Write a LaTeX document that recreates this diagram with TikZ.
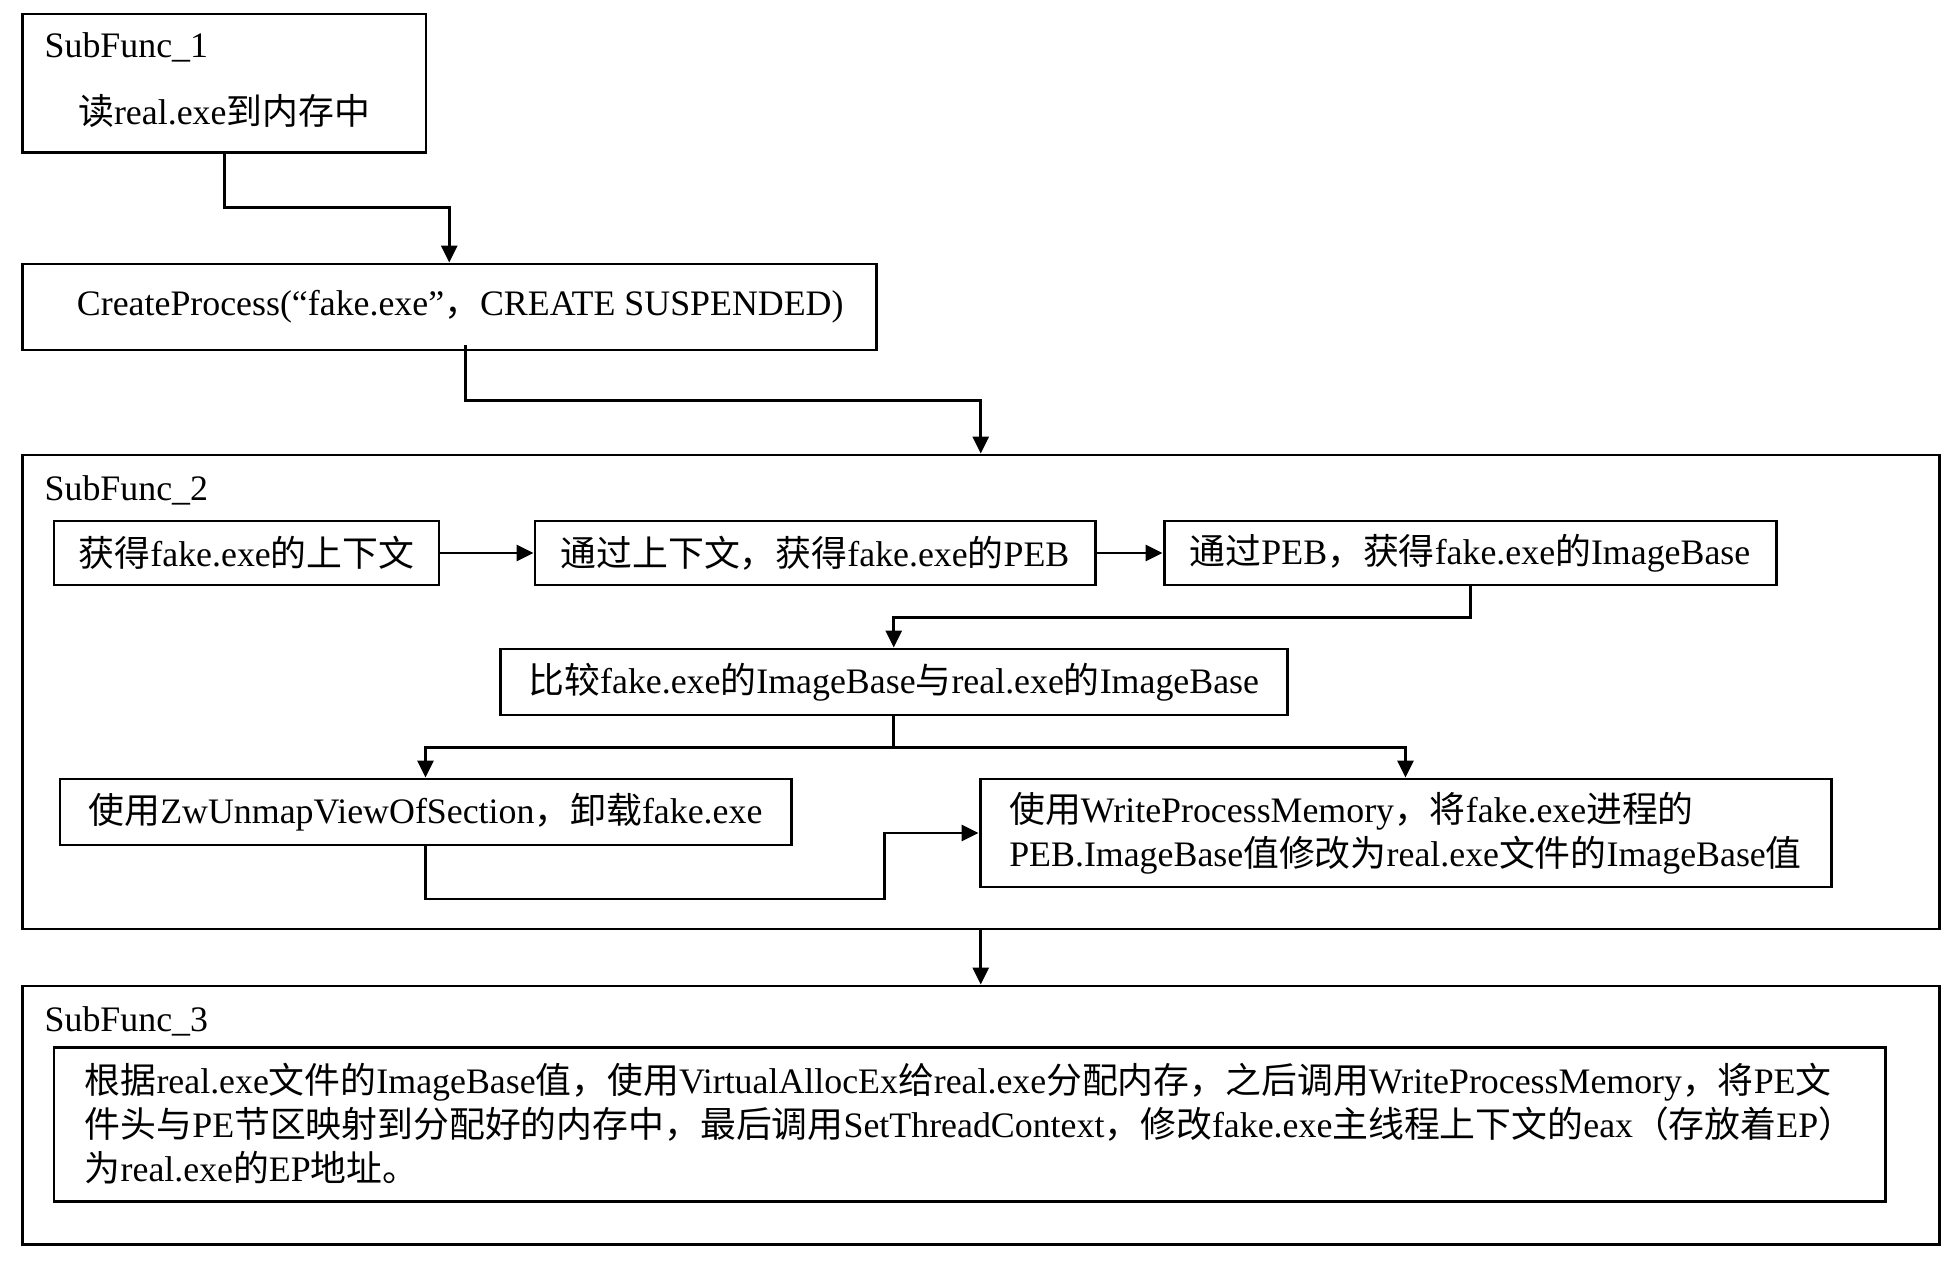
\documentclass[tikz,border=0pt]{standalone}
\usepackage{fontspec}
\setmainfont{Liberation Serif}
\newfontfamily\cjk{Noto Sans CJK SC}
\newcommand{\zh}[1]{{\cjk #1}}
\usepackage{tikz}
\usetikzlibrary{positioning, arrows.meta, calc}

\begin{document}
\begin{tikzpicture}[
  font=\fontsize{10.2}{12.5}\selectfont,
  box/.style={rectangle, draw, line width=0.85pt, inner sep=0pt, align=center},
  para/.style={box, align=left},
  tag/.style={inner sep=0pt, anchor=west},
  ar/.style={-{Triangle[length=1.7mm, width=1.6mm]}, line width=0.85pt}
]
\path[use as bounding box, fill=white] (0,0) rectangle (19.6,-12.65);

\node[box, minimum width=4.035cm, minimum height=1.385cm] (sf1) at (2.2425,-0.8325) {};
\node[tag] (sf1tag) at (0.44,-0.475) {SubFunc\_1};
\node[tag] (sf1txt) at (0.775,-1.11) {\zh{读}real.exe\zh{到内存中}};

\node[box, minimum width=8.535cm, minimum height=0.86cm] (cp) at (4.4925,-3.07)
  {\hspace*{0.22cm}CreateProcess(“fake.exe”\zh{，}CREATE SUSPENDED)};

\node[box, minimum width=19.165cm, minimum height=4.74cm] (sf2) at (9.8075,-6.92) {};
\node[tag] (sf2tag) at (0.44,-4.9) {SubFunc\_2};

\node[box, minimum width=3.85cm, minimum height=0.64cm] (ctx) at (2.465,-5.53)
  {\zh{获得}fake.exe\zh{的上下文}};
\node[box, minimum width=5.6cm, minimum height=0.64cm] (peb) at (8.15,-5.53)
  {\zh{通过上下文，获得}fake.exe\zh{的}PEB};
\node[box, minimum width=6.12cm, minimum height=0.64cm] (base) at (14.7,-5.53)
  {\zh{通过}PEB\zh{，获得}fake.exe\zh{的}ImageBase};

\node[box, minimum width=7.875cm, minimum height=0.66cm] (cmp) at (8.9375,-6.82)
  {\zh{比较}fake.exe\zh{的}ImageBase\zh{与}real.exe\zh{的}ImageBase};

\node[box, minimum width=7.31cm, minimum height=0.66cm] (unmap) at (4.255,-8.12)
  {\zh{使用}ZwUnmapViewOfSection\zh{，卸载}fake.exe};
\node[para, minimum width=8.51cm, minimum height=1.08cm] (wpm) at (14.055,-8.33)
  {\zh{使用}WriteProcessMemory\zh{，将}fake.exe\zh{进程的}\\
   PEB.ImageBase\zh{值修改为}real.exe\zh{文件的}ImageBase\zh{值}};

\node[box, minimum width=19.165cm, minimum height=2.58cm] (sf3) at (9.8075,-11.15) {};
\node[tag] (sf3tag) at (0.44,-10.21) {SubFunc\_3};

\node[para, minimum width=18.31cm, minimum height=1.54cm] (inj) at (9.695,-11.24)
  {\zh{根据}real.exe\zh{文件的}ImageBase\zh{值，使用}VirtualAllocEx\zh{给}real.exe\zh{分配内存，之后调用}WriteProcessMemory\zh{，将}PE\zh{文}\\
   \zh{件头与}PE\zh{节区映射到分配好的内存中，最后调用}SetThreadContext\zh{，修改}fake.exe\zh{主线程上下文的}eax\zh{（存放着}EP\zh{）}\\
   \zh{为}real.exe\zh{的}EP\zh{地址。}};

\draw[ar] (sf1.south) -- ++(0,-0.535) -| (cp.north);
\draw[ar] ([xshift=0.16cm, yshift=0.06cm]cp.south) -- ++(0,-0.55) -| (sf2.north);

\draw[ar] (ctx) -- (peb);
\draw[ar] (peb) -- (base);
\draw[ar] (base.south) -- ++(0,-0.31) -| (cmp.north);

\draw[line width=0.85pt] (cmp.south) -- ++(0,-0.31) coordinate (split);
\draw[ar] (split) -| (unmap.north);
\draw[ar] (split) -| (wpm.north);
\draw[ar] (unmap.south) -- ++(0,-0.525) -| ($(wpm.west)+(-0.94,0)$) -- (wpm.west);

\draw[ar] (sf2.south) -- (sf3.north);

\end{tikzpicture}
\end{document}
